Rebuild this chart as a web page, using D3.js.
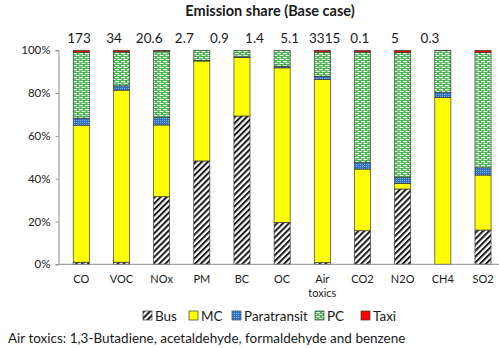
<!DOCTYPE html>
<html>
<head>
<meta charset="utf-8">
<script src="https://cdn.jsdelivr.net/npm/d3@7"></script>
<style>
  html, body { margin: 0; padding: 0; background: #fff; }
  svg { display: block; font-family: Lato, "Open Sans", sans-serif; }
</style>
</head>
<body>
<svg id="chart" width="499" height="348"></svg>
<script>
// Pollutants along the x axis
const categories = ["CO", "VOC", "NOx", "PM", "BC", "OC", "Air toxics", "CO2", "N2O", "CH4", "SO2"];

// Total emissions printed above the bars (one per pollutant)
const totals = ["173", "34", "20.6", "2.7", "0.9", "1.4", "5.1", "3315", "0.1", "5", "0.3"];

// Share of each vehicle class, in percent, per pollutant
const bus         = [1.0,  1.0,  31.6, 48.3, 69.3, 19.6, 0.8,  15.7, 35.2, 0.0,  16.0];
const mc          = [64.0, 80.4, 33.5, 46.7, 27.4, 72.2, 85.6, 28.8, 2.6,  77.9, 25.7];
const paratransit = [3.3,  2.0,  3.6,  0.3,  0.2,  0.6,  1.3,  3.2,  2.9,  2.5,  3.4];
const pc          = [30.7, 15.8, 30.9, 4.7,  3.1,  7.6,  11.5, 51.5, 58.3, 19.5, 53.9];
const taxi        = [1.0,  0.8,  0.4,  0.0,  0.0,  0.0,  0.8,  0.8,  1.0,  0.1,  1.0];

const seriesNames = ["Bus", "MC", "Paratransit", "PC", "Taxi"];
const yTicks = [0, 20, 40, 60, 80, 100];

const title = "Emission share (Base case)";
const footnote = "Air toxics: 1,3-Butadiene, acetaldehyde, formaldehyde and benzene";

// ---------------------------------------------------------------------------
const svg = d3.select("#chart");
const textColor = "#1a1a1a";
const axisColor = "#8c8c8c";

// Fill patterns for each vehicle class
const defs = svg.append("defs");

// Bus: black diagonal hatch
const hatch = defs.append("pattern")
  .attr("id", "pat-bus").attr("patternUnits", "userSpaceOnUse")
  .attr("width", 4.2).attr("height", 4.2)
  .attr("patternTransform", "rotate(45)");
hatch.append("rect").attr("width", 4.2).attr("height", 4.2).attr("fill", "#fff");
hatch.append("rect").attr("width", 2).attr("height", 4.2).attr("fill", "#1a1a1a");

// Paratransit: blue with a fine light checker
const para = defs.append("pattern")
  .attr("id", "pat-para").attr("patternUnits", "userSpaceOnUse")
  .attr("width", 2).attr("height", 2);
para.append("rect").attr("width", 2).attr("height", 2).attr("fill", "#2f74c0");
para.append("rect").attr("width", 1).attr("height", 1).attr("fill", "#7fb0e2");

// PC: green brick on white
const brick = defs.append("pattern")
  .attr("id", "pat-pc").attr("patternUnits", "userSpaceOnUse")
  .attr("width", 6).attr("height", 4);
brick.append("rect").attr("width", 6).attr("height", 4).attr("fill", "#48b550");
brick.append("rect").attr("x", 1).attr("y", 1).attr("width", 4).attr("height", 1.2).attr("fill", "#f2fbf2");
brick.append("rect").attr("x", 0).attr("y", 3).attr("width", 1.5).attr("height", 1).attr("fill", "#f2fbf2");
brick.append("rect").attr("x", 3.5).attr("y", 3).attr("width", 2.5).attr("height", 1).attr("fill", "#f2fbf2");

const fills = {
  "Bus": "url(#pat-bus)",
  "MC": "#ffff00",
  "Paratransit": "url(#pat-para)",
  "PC": "url(#pat-pc)",
  "Taxi": "#ff0000"
};

// Scales
const plotLeft = 58.5, plotBottom = 264.3, plotTop = 50.3;
const x = d3.scaleBand()
  .domain(categories)
  .range([61.2, 503.1])
  .paddingInner(0.6)
  .paddingOuter(0.3);
const y = d3.scaleLinear().domain([0, 100]).range([plotBottom, plotTop]);

// Stack the series
const rows = categories.map((c, i) => ({
  category: c,
  "Bus": bus[i], "MC": mc[i], "Paratransit": paratransit[i], "PC": pc[i], "Taxi": taxi[i]
}));
const stacked = d3.stack().keys(seriesNames)(rows);

// Bars
const layers = svg.append("g").selectAll("g")
  .data(stacked).join("g")
  .attr("fill", d => fills[d.key]);

layers.selectAll("rect")
  .data(d => d.filter(s => s[1] - s[0] > 0))
  .join("rect")
  .attr("x", d => x(d.data.category))
  .attr("width", x.bandwidth())
  .attr("y", d => y(d[1]))
  .attr("height", d => y(d[0]) - y(d[1]))
  .attr("stroke", "#3a3a3a")
  .attr("stroke-width", 0.7);

// Y axis
const yAxis = svg.append("g")
  .attr("transform", `translate(${plotLeft},0)`)
  .call(d3.axisLeft(y).tickValues(yTicks).tickFormat(d => d + "%").tickSize(3).tickPadding(5));
yAxis.select(".domain").attr("stroke", axisColor);
yAxis.selectAll(".tick line").attr("stroke", axisColor);
yAxis.selectAll(".tick text")
  .attr("fill", textColor)
  .style("font-family", "Lato, sans-serif")
  .style("font-size", "11.5px");

// X baseline
svg.append("line")
  .attr("x1", plotLeft).attr("x2", 499)
  .attr("y1", plotBottom).attr("y2", plotBottom)
  .attr("stroke", axisColor).attr("stroke-width", 1);

// Category labels (wrapped for "Air toxics")
const xLabels = svg.append("g").selectAll("text")
  .data(categories).join("text")
  .attr("x", d => x(d) + x.bandwidth() / 2)
  .attr("y", 283)
  .attr("text-anchor", "middle")
  .attr("fill", textColor)
  .style("font-size", "11px");
xLabels.each(function(d) {
  const words = d.split(" ");
  const t = d3.select(this);
  words.forEach((w, i) => {
    t.append("tspan")
      .attr("x", x(d) + x.bandwidth() / 2)
      .attr("dy", i === 0 ? 0 : 14)
      .text(w);
  });
});

// Totals row above the bars
const totalsX = d3.scalePoint().domain(categories).range([79, 430]);
svg.append("g").selectAll("text")
  .data(totals).join("text")
  .attr("x", (d, i) => totalsX(categories[i]))
  .attr("y", 43)
  .attr("text-anchor", "middle")
  .attr("fill", textColor)
  .style("font-size", "13.5px")
  .text(d => d);

// Title
svg.append("text")
  .attr("x", 270).attr("y", 16)
  .attr("text-anchor", "middle")
  .attr("fill", textColor)
  .style("font-size", "14.5px")
  .style("font-weight", "bold")
  .text(title);

// Legend
const legendItems = [
  { name: "Bus", x: 143 },
  { name: "MC", x: 189 },
  { name: "Paratransit", x: 232 },
  { name: "PC", x: 315 },
  { name: "Taxi", x: 361 }
];
const legend = svg.append("g").selectAll("g")
  .data(legendItems).join("g")
  .attr("transform", d => `translate(${d.x},311)`);
legend.append("rect")
  .attr("width", 9).attr("height", 9)
  .attr("fill", d => fills[d.name])
  .attr("stroke", "#3a3a3a").attr("stroke-width", 0.7);
legend.append("text")
  .attr("x", 12).attr("y", 9.5)
  .attr("fill", textColor)
  .style("font-size", "13.5px")
  .text(d => d.name);

// Footnote
svg.append("text")
  .attr("x", 8).attr("y", 343)
  .attr("fill", textColor)
  .style("font-size", "13.5px")
  .text(footnote);
</script>
</body>
</html>
